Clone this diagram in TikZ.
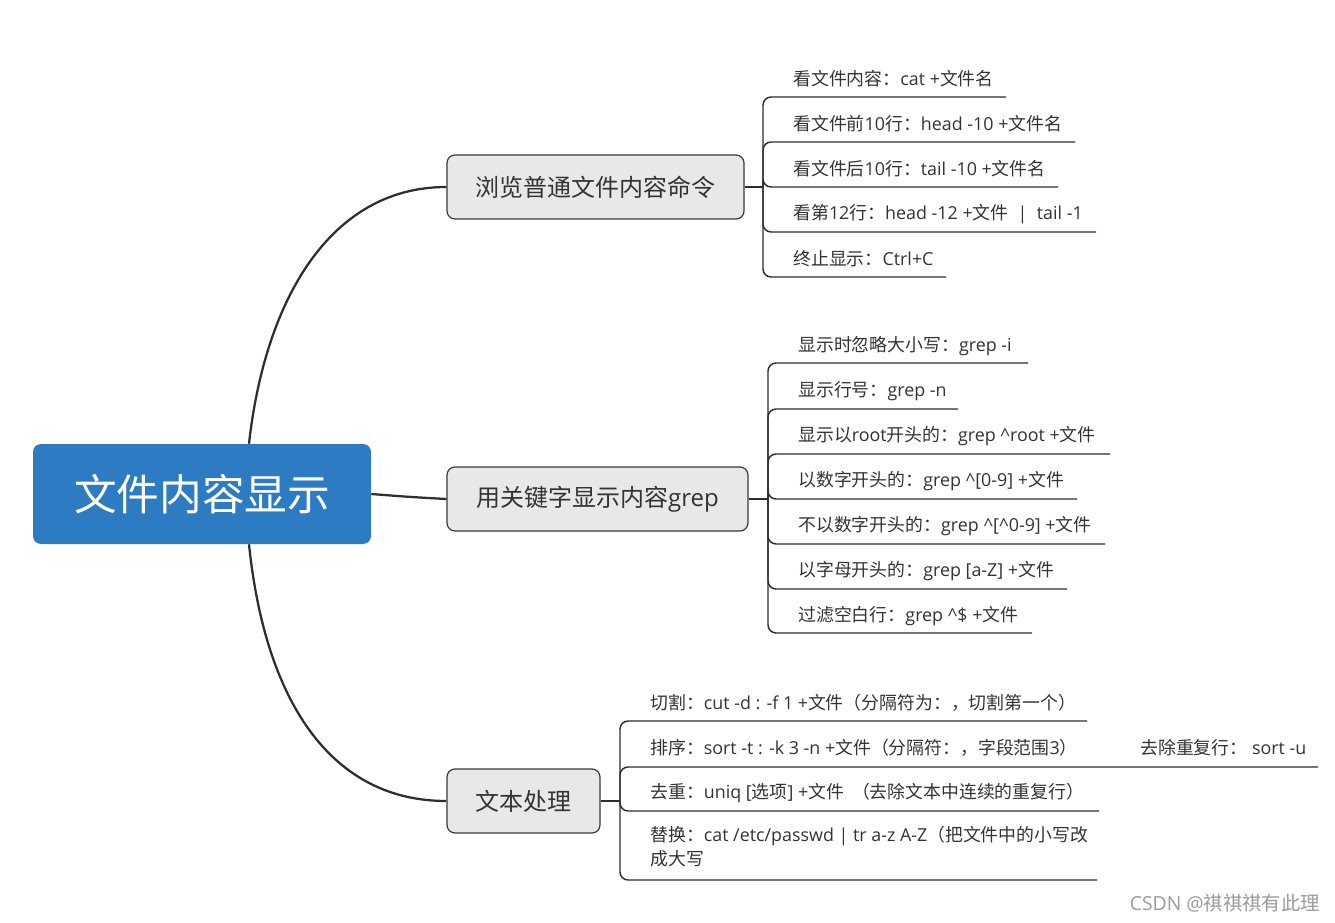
\documentclass[tikz,border=0pt]{standalone}
\usepackage{fontspec}
\setmainfont{Noto Sans CJK SC}
\newfontfamily\lfont{Open Sans}
\newcommand\enf[1]{{\lfont #1}}
\definecolor{rootblue}{HTML}{2C7BC3}
\definecolor{boxfill}{HTML}{E8E8E8}
\definecolor{boxline}{HTML}{3A3A3A}
\definecolor{textcol}{HTML}{333333}
\definecolor{linecol}{HTML}{2E2E2E}
\definecolor{wmcol}{HTML}{9A9A9A}
\begin{document}
\begin{tikzpicture}[x=0.75pt,y=-0.75pt,
  rootbox/.style={fill=rootblue, rounded corners=6pt, minimum width=253.5pt, minimum height=75pt, text=white, font=\fontsize{32}{36}\selectfont, inner sep=0pt},
  branchbox/.style={draw=boxline, line width=0.9pt, fill=boxfill, rounded corners=6pt, minimum height=48pt, font=\fontsize{18}{22}\selectfont, text=textcol, inner sep=0pt},
  leaf/.style={anchor=west, inner sep=0pt, font=\fontsize{13.4}{18}\selectfont, text=textcol},
  mainlink/.style={draw=linecol, line width=1.7pt},
  leaflink/.style={draw=linecol, line width=1.1pt, rounded corners=6pt}]
\useasboundingbox (0,0) rectangle (1335,923);
\fill[white] (0,0) rectangle (1335,923);

% root and branches
\node[rootbox] (root) at (202,494) {文件内容显示};
\node[branchbox, minimum width=222.75pt] (b1) at (595.5,187) {浏览普通文件内容命令};
\node[branchbox, minimum width=225.75pt] (b2) at (597.5,499) {用关键字显示内容\enf{grep}};
\node[branchbox, minimum width=114.75pt] (b3) at (523.5,801) {文本处理};

\draw[mainlink] ([xshift=35.25pt]root.north) .. controls (265,300) and (330,187) .. (b1.west);
\draw[mainlink] (root.east) .. controls (410,497) .. (b2.west);
\draw[mainlink] ([xshift=35.25pt]root.south) .. controls (265,700) and (330,801) .. (b3.west);

% branch 1
\coordinate (j1) at (763,187);
\draw[leaflink] (b1.east) -- (j1);
\node[leaf] (a1) at (793,79) {看文件内容：\enf{cat +}文件名};
\node[leaf] (a2) at (793,124) {看文件前\enf{10}行：\enf{head -10 +}文件名};
\node[leaf] (a3) at (793,169) {看文件后\enf{10}行：\enf{tail -10 +}文件名};
\node[leaf] (a4) at (793,214) {看第\enf{12}行：\enf{head -12 +}文件\enf{\ \ |\ \ tail -1}};
\node[leaf] (a5) at (793,259) {终止显示：\enf{Ctrl+C}};
\coordinate (ua1) at (1006,97);
\coordinate (ua2) at (1075,142);
\coordinate (ua3) at (1058,187);
\coordinate (ua4) at (1096,232);
\coordinate (ua5) at (946,277);
\foreach \u in {ua1,ua2,ua3,ua4,ua5} \draw[leaflink] (j1) |- (\u);

% branch 2
\coordinate (j2) at (768,499);
\draw[leaflink] (b2.east) -- (j2);
\node[leaf] (c1) at (798,346) {显示时忽略大小写：\enf{grep -i}};
\node[leaf] (c2) at (798,391) {显示行号：\enf{grep -n}};
\node[leaf] (c3) at (798,436) {显示以\enf{root}开头的：\enf{grep \textasciicircum root +}文件};
\node[leaf] (c4) at (798,481) {以数字开头的：\enf{grep \textasciicircum[0-9] +}文件};
\node[leaf] (c5) at (798,526) {不以数字开头的：\enf{grep \textasciicircum[\textasciicircum 0-9] +}文件};
\node[leaf] (c6) at (798,571) {以字母开头的：\enf{grep [a-Z] +}文件};
\node[leaf] (c7) at (798,616) {过滤空白行：\enf{grep \textasciicircum\$ +}文件};
\coordinate (uc1) at (1028,363);
\coordinate (uc2) at (958,409);
\coordinate (uc3) at (1110,454);
\coordinate (uc4) at (1077,499);
\coordinate (uc5) at (1105,544);
\coordinate (uc6) at (1067,589);
\coordinate (uc7) at (1032,633);
\foreach \u in {uc1,uc2,uc3,uc4,uc5,uc6,uc7} \draw[leaflink] (j2) |- (\u);

% branch 3
\coordinate (j3) at (620,801);
\draw[leaflink] (b3.east) -- (j3);
\node[leaf] (d1) at (650,703) {切割：\enf{cut -d : -f 1 +}文件（分隔符为：，切割第一个）};
\node[leaf] (d2) at (650,748) {排序：\enf{sort -t : -k 3 -n +}文件（分隔符：，字段范围\enf{3}）};
\node[leaf] (d2b) at (1140,748) {去除重复行：\enf{ sort -u}};
\node[leaf] (d3) at (650,793) {去重：\enf{uniq [}选项\enf{] +}文件 \ （去除文本中连续的重复行）};
\node[leaf, anchor=north west, align=left] (d4) at (650,826) {替换：\enf{cat /etc/passwd | tr a-z A-Z}（把文件中的小写改\\成大写};
\coordinate (ud1) at (1087,721);
\coordinate (ud2) at (1318,767);
\coordinate (ud3) at (1099,811);
\coordinate (ud4) at (1097,880);
\foreach \u in {ud1,ud2,ud3,ud4} \draw[leaflink] (j3) |- (\u);

% watermark
\node[inner sep=0pt, text=wmcol, font=\fontsize{14.5}{17}\selectfont, anchor=east] (wm) at (1320,903) {\enf{CSDN @}祺祺祺有此理};
\end{tikzpicture}
\end{document}
